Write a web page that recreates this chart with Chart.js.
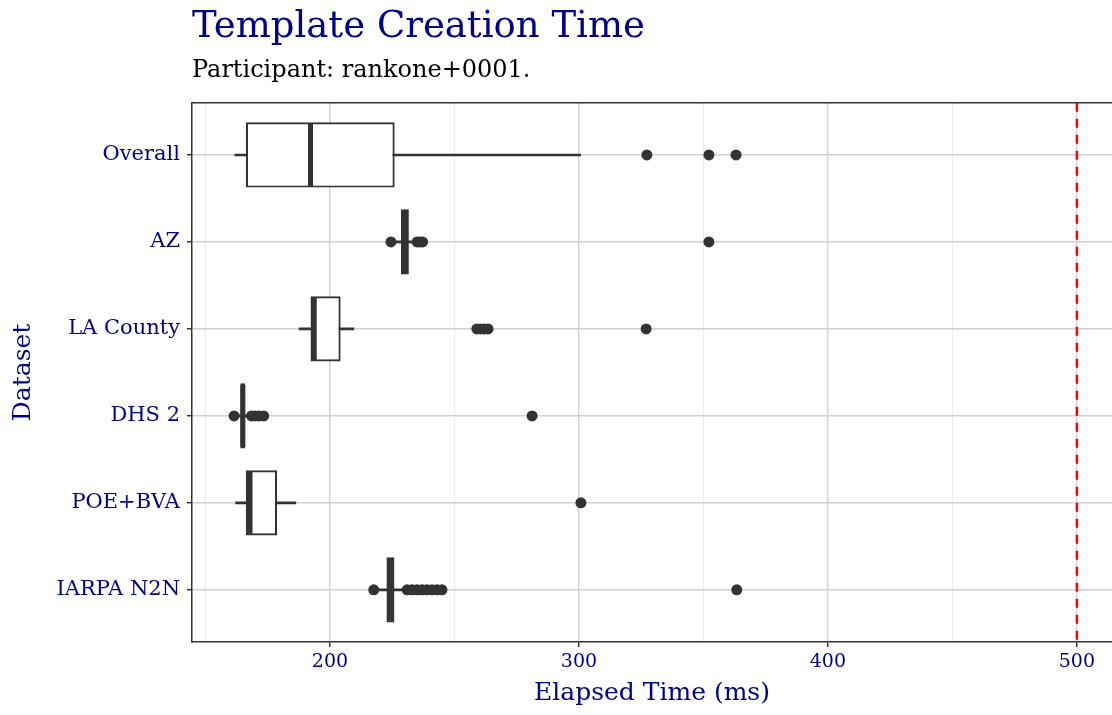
<!DOCTYPE html>
<html><head><meta charset="utf-8">
<script src="https://cdn.jsdelivr.net/npm/chart.js@4/dist/chart.umd.min.js"></script>
<style>html,body{margin:0;padding:0;background:#fff;overflow:hidden;} #wrap{width:1112px;height:715px;position:relative;} canvas{display:block;}</style>
</head><body><div id="wrap"><canvas id="c" width="1112" height="715"></canvas></div>
<script>
const categories = ['Overall', 'AZ', 'LA County', 'DHS 2', 'POE+BVA', 'IARPA N2N'];
const whiskerLow  = [161.8, 226.0, 187.6, 162.5, 162.1, 218.5];
const q1          = [166.2, 228.5, 192.2, 164.0, 166.2, 222.7];
const median      = [192.2, 230.0, 193.7, 165.0, 167.9, 224.3];
const q3          = [226.0, 231.7, 204.3, 166.0, 178.8, 225.9];
const whiskerHigh = [300.7, 233.5, 209.6, 167.5, 186.3, 230.0];
const outliers = [
  [327.3, 352.2, 363.1],
  [224.5, 235.0, 236.0, 237.2, 352.2],
  [259.0, 260.5, 262.0, 263.5, 327.0],
  [161.5, 168.5, 170.0, 171.5, 173.4, 281.2],
  [300.8],
  [217.6, 231.0, 233.0, 235.0, 237.0, 239.0, 241.0, 243.0, 245.0, 363.4]
];
const xTicks = [150, 200, 250, 300, 350, 400, 450, 500];
const xLabelled = [200, 300, 400, 500];
const thresholdValue = 500;
const xMin = 144.6, xMax = 514.1;

const FONT = 'DejaVu Serif';
const BLUE = '#00008B';
const DARK = '#333333';

const panelTop = {
  id: 'panelTop',
  afterDraw(chart) {
    const {ctx, chartArea: a} = chart;
    ctx.save();
    ctx.strokeStyle = DARK; ctx.lineWidth = 1.5;
    ctx.beginPath(); ctx.moveTo(a.left, a.top); ctx.lineTo(a.right, a.top); ctx.stroke();
    ctx.restore();
  }
};

const pos = i => i + 1;

new Chart(document.getElementById('c'), {
  type: 'bar',
  data: {
    datasets: [
      {
        type: 'line',
        data: [{x: thresholdValue, y: 0.4}, {x: thresholdValue, y: 6.6}],
        borderColor: '#FF0000', borderWidth: 2.5, borderDash: [9, 7],
        pointRadius: 0, fill: false, order: 0
      },
      {
        type: 'scatter',
        data: outliers.flatMap((arr, i) => arr.map(v => ({x: v, y: pos(i)}))),
        pointRadius: 5.5, backgroundColor: DARK, borderWidth: 0, order: 1
      },
      {
        type: 'scatter',
        data: median.map((m, i) => ({x: m, y: pos(i)})),
        pointStyle: 'line', rotation: 90, pointRadius: 31,
        borderColor: DARK, borderWidth: 5, order: 2
      },
      {
        type: 'bar', indexAxis: 'y',
        data: q1.map((v, i) => ({x: [v, q3[i]], y: pos(i)})),
        backgroundColor: '#ffffff', borderColor: DARK, borderWidth: 2.2,
        borderSkipped: false, barPercentage: 0.75, categoryPercentage: 1,
        grouped: false, order: 3
      },
      {
        type: 'bar', indexAxis: 'y',
        data: whiskerLow.map((v, i) => ({x: [v, whiskerHigh[i]], y: pos(i)})),
        backgroundColor: DARK, borderWidth: 0, barThickness: 2,
        grouped: false, order: 4
      }
    ]
  },
  options: {
    responsive: false,
    animation: false,
    events: [],
    devicePixelRatio: 1,
    layout: {padding: 0, autoPadding: false},
    plugins: {
      legend: {display: false},
      tooltip: {enabled: false},
      title: {
        display: true, text: 'Template Creation Time', align: 'start', fullSize: false,
        color: BLUE, font: {family: FONT, size: 37, weight: 'normal'},
        padding: {top: 5, bottom: 7}
      },
      subtitle: {
        display: true, text: 'Participant: rankone+0001.', align: 'start', fullSize: false,
        color: '#000000', font: {family: FONT, size: 24, weight: 'normal'},
        padding: {top: 0, bottom: 17.6}
      }
    },
    scales: {
      x: {
        type: 'linear', min: xMin, max: xMax, offset: false, beginAtZero: false,
        afterBuildTicks: s => { s.ticks = xTicks.map(v => ({value: v})); },
        afterFit: s => { s.height = 73; s.paddingLeft = 0; s.paddingRight = 0; },
        ticks: {
          callback: v => xLabelled.includes(v) ? String(v) : '',
          color: BLUE, font: {family: FONT, size: 19}, padding: 4,
          maxRotation: 0, autoSkip: false
        },
        grid: {
          offset: false,
          color: c => (c.tick && xLabelled.includes(c.tick.value)) ? '#d1d1d1' : '#ebebeb',
          lineWidth: c => (c.tick && xLabelled.includes(c.tick.value)) ? 1.4 : 1,
          tickLength: 5,
          tickColor: c => (c.tick && xLabelled.includes(c.tick.value)) ? DARK : 'rgba(0,0,0,0)',
          tickWidth: 1.5
        },
        border: {display: true, color: DARK, width: 1.5},
        title: {
          display: true, text: 'Elapsed Time (ms)', color: BLUE,
          font: {family: FONT, size: 25}, padding: {top: 0, bottom: 7}
        }
      },
      y: {
        type: 'linear', min: 0.4, max: 6.6, reverse: true, offset: false, beginAtZero: false,
        afterBuildTicks: s => { s.ticks = categories.map((c, i) => ({value: pos(i)})); },
        afterFit: s => { s.width = 192; },
        ticks: {
          callback: v => categories[Math.round(v) - 1] || '',
          color: BLUE, font: {family: FONT, size: 21}, padding: 7, autoSkip: false
        },
        grid: {offset: false, color: '#d1d1d1', lineWidth: 1.4, tickLength: 5, tickColor: DARK, tickWidth: 1.5},
        border: {display: true, color: DARK, width: 1.5},
        title: {
          display: true, text: 'Dataset', color: BLUE,
          font: {family: FONT, size: 25}, padding: {top: 8, bottom: 0}
        }
      }
    }
  },
  plugins: [panelTop]
});
</script>
</body></html>
